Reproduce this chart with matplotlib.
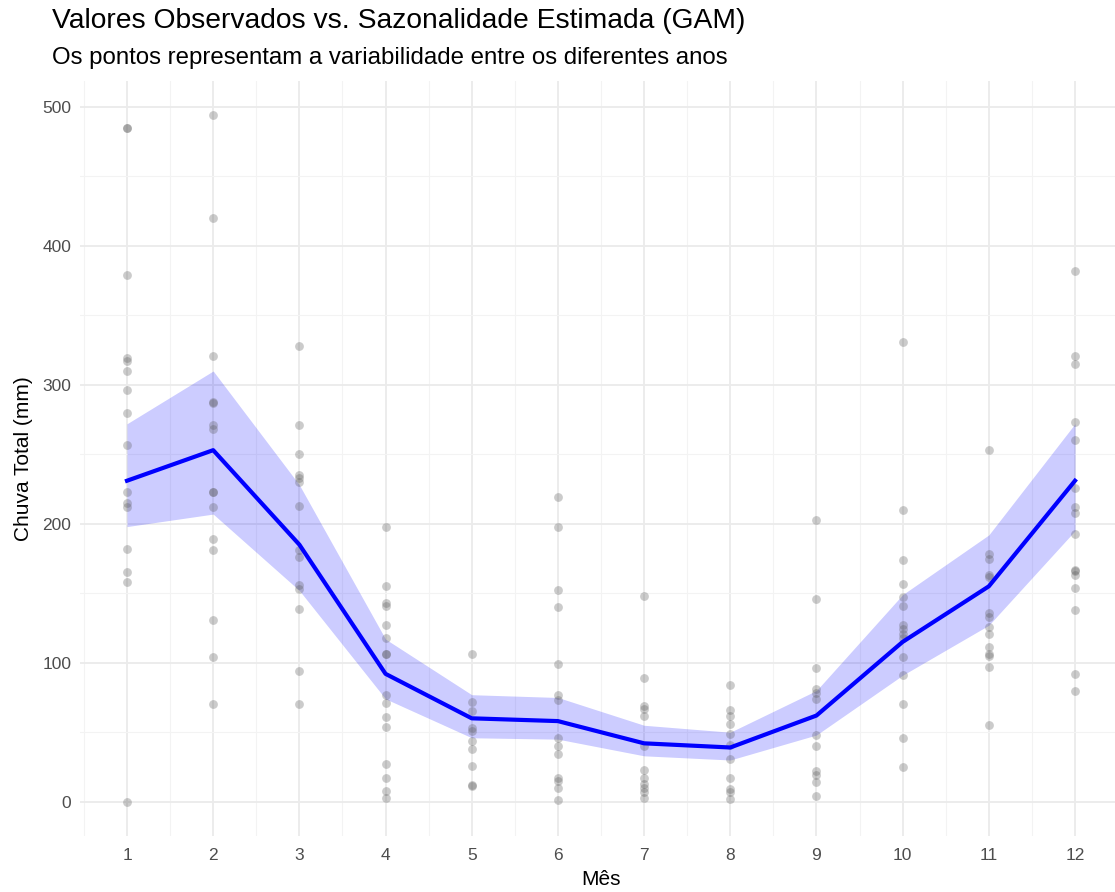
import numpy as np
import matplotlib.pyplot as plt

plt.rcParams['font.family'] = ['Liberation Sans', 'DejaVu Sans']

# observed monthly totals (mm), one list per month
m1 = [485, 485, 379, 319, 317, 310, 296, 280, 257, 223, 215, 212, 182, 165, 158, 0]
m2 = [494, 420, 321, 288, 287, 271, 268, 223, 223, 212, 189, 181, 131, 104, 70]
m3 = [328, 271, 250, 235, 233, 230, 213, 181, 176, 156, 153, 139, 94, 70]
m4 = [198, 155, 143, 141, 127, 118, 106, 106, 77, 71, 61, 54, 27, 17, 8, 3]
m5 = [106, 72, 65, 53, 51, 44, 38, 26, 12, 11]
m6 = [219, 198, 152, 140, 99, 77, 73, 46, 40, 34, 17, 15, 10, 1]
m7 = [148, 89, 69, 67, 62, 40, 23, 17, 13, 10, 7, 3]
m8 = [84, 66, 62, 56, 49, 41, 31, 17, 9, 7, 2]
m9 = [203, 146, 96, 81, 78, 74, 48, 40, 22, 19, 14, 4]
m10 = [331, 210, 174, 157, 147, 141, 127, 124, 121, 118, 104, 91, 70, 46, 25]
m11 = [253, 178, 175, 163, 162, 136, 133, 126, 121, 111, 106, 105, 97, 55]
m12 = [382, 321, 315, 273, 260, 226, 212, 208, 193, 167, 166, 163, 154, 138, 92, 80]
observed = [m1, m2, m3, m4, m5, m6, m7, m8, m9, m10, m11, m12]

months = list(range(1, 13))
# GAM fit and its confidence band
fit = [231, 253, 185, 92, 60, 58, 42, 39, 62, 115, 155, 231]
upper = [272, 310, 228, 117, 77, 75, 55, 50, 80, 149, 192, 272]
lower = [198, 207, 152, 74, 46, 45, 33, 30, 48, 91, 127, 195]

fig = plt.figure(figsize=(11.15, 8.92), dpi=100)
ax = fig.add_axes([79.6 / 1115, 56 / 892, 1042.8 / 1115, 755 / 892])

ax.fill_between(months, lower, upper, color='blue', alpha=0.2, linewidth=0, zorder=2)
for m, vals in zip(months, observed):
    ax.scatter([m] * len(vals), vals, s=40, color='#555555', alpha=0.3,
               linewidths=0, zorder=3)
ax.plot(months, fit, color='blue', linewidth=3, zorder=4)

ax.set_xlim(0.45, 12.55)
ax.set_ylim(-24.7, 518.7)
ax.set_xticks(months)
ax.set_xticks(np.arange(0.5, 12.6, 1), minor=True)
ax.set_yticks([0, 100, 200, 300, 400, 500])
ax.set_yticks([50, 150, 250, 350, 450], minor=True)

ax.grid(which='major', color='#ebebeb', linewidth=1.3, zorder=0)
ax.grid(which='minor', color='#f3f3f3', linewidth=0.8, zorder=0)
ax.set_axisbelow(True)
for s in ax.spines.values():
    s.set_visible(False)
ax.tick_params(which='both', length=0)
ax.tick_params(axis='x', labelsize=12.5, labelcolor='#4d4d4d', pad=9)
ax.tick_params(axis='y', labelsize=12.5, labelcolor='#4d4d4d', pad=6)

ax.set_xlabel('Mês', fontsize=15, labelpad=5)
ax.set_ylabel('Chuva Total (mm)', fontsize=15, labelpad=7)

fig.text(52 / 1115, 1 - 21 / 892, 'Valores Observados vs. Sazonalidade Estimada (GAM)',
         fontsize=20.3, va='center', ha='left')
fig.text(52 / 1115, 1 - 58 / 892, 'Os pontos representam a variabilidade entre os diferentes anos',
         fontsize=17.3, va='center', ha='left')

fig.savefig('out.png', dpi=100)
